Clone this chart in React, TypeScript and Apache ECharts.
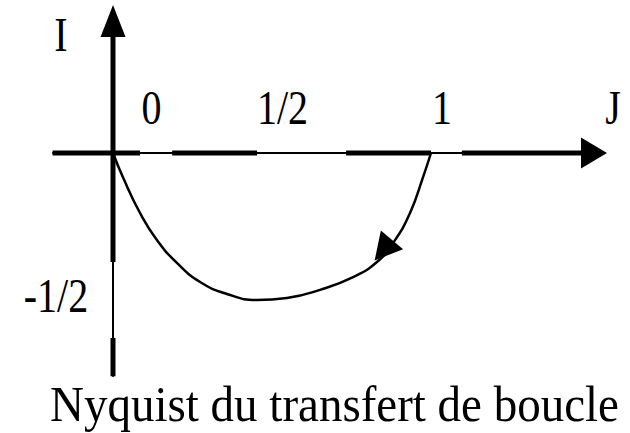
import React, { useEffect, useRef } from "react";
import * as echarts from "echarts";

// Nyquist locus (real part J, imaginary part I)
const curveRe = [0, 0.031, 0.085, 0.138, 0.201, 0.274, 0.358, 0.453, 0.547, 0.651, 0.755, 0.83, 0.881, 0.934, 0.975, 1];
const curveIm = [0, -0.083, -0.207, -0.3, -0.379, -0.445, -0.486, -0.507, -0.5, -0.472, -0.428, -0.376, -0.31, -0.207, -0.083, 0];

// direction arrow on the locus
const arrowPoint = [0.85, -0.335];

// thick pieces of the real axis and of the imaginary axis
const realAxisPieces = [[-0.19, 0.085], [0.186, 0.453], [0.733, 1.0], [1.097, 1.5]];
const imagAxisPieces = [[0.42, -0.376], [-0.638, -0.77]];

const tickLabels = ["0", "1/2", "1"];
const axisNames = ["J", "I"];
const imagTickLabel = "-1/2";
const caption = "Nyquist du transfert de boucle";

const FONT = '"Liberation Serif", "Times New Roman", serif';

export default function App() {
  const ref = useRef<HTMLDivElement>(null);
  useEffect(() => {
    if (!ref.current) return;
    const chart = echarts.init(ref.current, null, { renderer: "svg" });

    const thickSeries: any[] = [];
    realAxisPieces.forEach((p) => {
      thickSeries.push({
        type: "line",
        data: [[p[0], 0], [p[1], 0]],
        symbol: "none",
        lineStyle: { color: "#000", width: 5, cap: "butt" },
        silent: true,
      });
    });
    imagAxisPieces.forEach((p) => {
      thickSeries.push({
        type: "line",
        data: [[0, p[0]], [0, p[1]]],
        symbol: "none",
        lineStyle: { color: "#000", width: 5, cap: "butt" },
        silent: true,
      });
    });

    const mkText = (text: string, x: number, y: number, size: number, sy: number) => ({
      type: "text",
      x,
      y,
      scaleY: sy,
      style: {
        text,
        font: `${size}px ${FONT}`,
        fontSize: size,
        fontFamily: FONT,
        fill: "#000",
        align: "center",
        textAlign: "center",
        verticalAlign: "middle",
        textVerticalAlign: "middle",
      },
    });

    chart.setOption({
      animation: false,
      backgroundColor: "#fff",
      grid: { left: 53, right: 36, top: 21, bottom: 57, containLabel: false },
      xAxis: {
        type: "value",
        min: -60 / 318,
        max: 481 / 318,
        axisLine: {
          onZero: true,
          symbol: ["none", "triangle"],
          symbolSize: [31, 26],
          lineStyle: { color: "#000", width: 2 },
        },
        axisTick: { show: false },
        axisLabel: { show: false },
        splitLine: { show: false },
      },
      yAxis: {
        type: "value",
        min: -223 / 290,
        max: 132 / 290,
        axisLine: {
          onZero: true,
          symbol: ["none", "triangle"],
          symbolSize: [25, 32],
          lineStyle: { color: "#000", width: 2 },
        },
        axisTick: { show: false },
        axisLabel: { show: false },
        splitLine: { show: false },
      },
      series: [
        ...thickSeries,
        {
          type: "line",
          data: curveRe.map((x, i) => [x, curveIm[i]]),
          smooth: true,
          symbol: "none",
          lineStyle: { color: "#000", width: 2.5 },
          silent: true,
        },
        {
          type: "scatter",
          data: [arrowPoint],
          symbol: "triangle",
          symbolSize: [29, 27],
          symbolRotate: 140,
          itemStyle: { color: "#000", opacity: 1 },
          silent: true,
          z: 5,
        },
      ],
      graphic: [
        mkText(tickLabels[0], 151.5, 108, 40, 1.2),
        mkText(tickLabels[1], 282.5, 108, 40, 1.2),
        mkText(tickLabels[2], 442, 108, 40, 1.2),
        mkText(axisNames[0], 613, 108, 40, 1.2),
        mkText(axisNames[1], 61, 35, 40, 1.2),
        mkText(imagTickLabel, 56, 296, 40, 1.2),
        mkText(caption, 334.5, 404, 47, 1.08),
      ],
    });
    return () => chart.dispose();
  }, []);
  return (
    <div
      ref={ref}
      style={{ position: "fixed", left: 0, top: 0, width: 630, height: 433, background: "#fff" }}
    />
  );
}
